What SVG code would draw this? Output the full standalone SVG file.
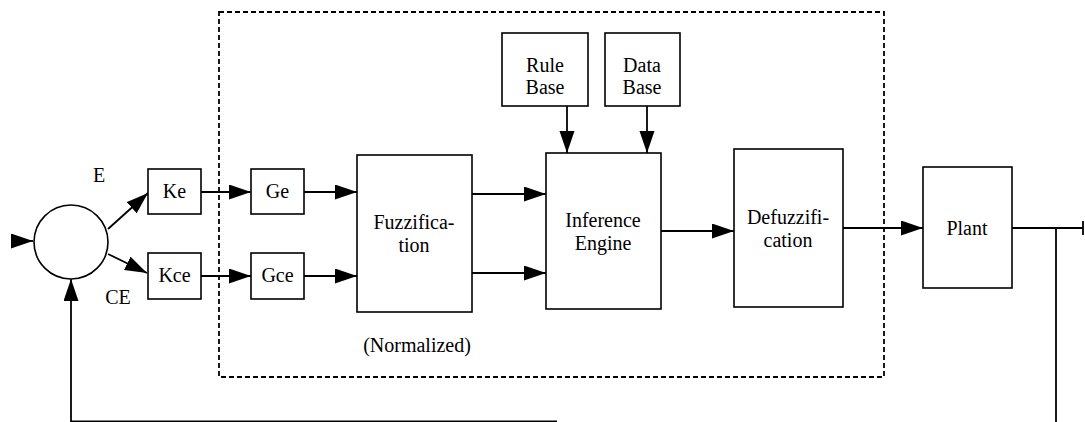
<svg xmlns="http://www.w3.org/2000/svg" width="1085" height="422" viewBox="0 0 1085 422">
  <style>
    .box { fill: #fff; stroke: #000; stroke-width: 1.6; }
    .wire { fill: none; stroke: #000; stroke-width: 1.8; }
    .frame { fill: none; stroke: #000; stroke-width: 1.8; stroke-dasharray: 5 3; }
  </style>
  <defs>
    <marker id="arrow" markerUnits="userSpaceOnUse" markerWidth="23" markerHeight="16" refX="22" refY="7.5" orient="auto">
      <path d="M0,0 L22,7.5 L0,15 Z" fill="#000"/>
    </marker>
  </defs>

  <rect width="1085" height="422" fill="#fff"/>

  <!-- dashed boundary of the fuzzy controller -->
  <rect class="frame" x="219" y="12" width="665" height="365"/>

  <!-- connectors -->
  <g id="connectors">
    <path class="wire" d="M12,241 L33,241" marker-end="url(#arrow)"/>
    <path class="wire" d="M108,229 L148,193" marker-end="url(#arrow)"/>
    <path class="wire" d="M108,254 L147,273" marker-end="url(#arrow)"/>
    <path class="wire" d="M201,192 L251,192" marker-end="url(#arrow)"/>
    <path class="wire" d="M201,276 L251,276" marker-end="url(#arrow)"/>
    <path class="wire" d="M304,192 L357,192" marker-end="url(#arrow)"/>
    <path class="wire" d="M304,276 L357,276" marker-end="url(#arrow)"/>
    <path class="wire" d="M472,194 L546,194" marker-end="url(#arrow)"/>
    <path class="wire" d="M472,273 L546,273" marker-end="url(#arrow)"/>
    <path class="wire" d="M567,106 L567,153" marker-end="url(#arrow)"/>
    <path class="wire" d="M647,106 L647,153" marker-end="url(#arrow)"/>
    <path class="wire" d="M661,231 L734,231" marker-end="url(#arrow)"/>
    <path class="wire" d="M843,228 L923,228" marker-end="url(#arrow)"/>
    <!-- plant output and feedback path -->
    <path class="wire" d="M1012,228 L1083,228"/>
    <path class="wire" d="M1083,221 L1083,235" stroke-width="2.5"/>
    <path class="wire" d="M1056,228 L1056,422"/>
    <path class="wire" d="M71,421.5 L557,421.5" stroke="#666" stroke-width="1.2"/>
    <path class="wire" d="M71,422 L71,279" marker-end="url(#arrow)"/>
  </g>

  <!-- all labels share one serif face -->
  <g font-family="'Liberation Serif', 'Times New Roman', serif" font-size="20" text-anchor="middle" fill="#000">
    <!-- summing junction -->
    <g id="sum">
      <circle cx="71" cy="242" r="37" fill="#fff" stroke="#000" stroke-width="1.6"/>
      <text x="99" y="182">E</text>
      <text x="118" y="304">CE</text>
    </g>

    <g id="ke">
      <rect class="box" x="148" y="169" width="53" height="45"/>
      <text x="174.5" y="198">Ke</text>
    </g>
    <g id="kce">
      <rect class="box" x="148" y="253" width="53" height="46"/>
      <text x="174.5" y="282">Kce</text>
    </g>
    <g id="ge">
      <rect class="box" x="251" y="169" width="53" height="45"/>
      <text x="277.5" y="198">Ge</text>
    </g>
    <g id="gce">
      <rect class="box" x="251" y="253" width="53" height="46"/>
      <text x="277.5" y="282">Gce</text>
    </g>

    <g id="fuzzification">
      <rect class="box" x="357" y="155" width="115" height="157"/>
      <text x="414" y="229">Fuzzifica-</text>
      <text x="414" y="252">tion</text>
      <text x="417" y="352">(Normalized)</text>
    </g>

    <g id="rule-base">
      <rect class="box" x="502" y="33" width="86" height="73"/>
      <text x="545" y="72">Rule</text>
      <text x="545" y="94">Base</text>
    </g>
    <g id="data-base">
      <rect class="box" x="605" y="33" width="75" height="73"/>
      <text x="642" y="72">Data</text>
      <text x="642" y="94">Base</text>
    </g>

    <g id="inference-engine">
      <rect class="box" x="546" y="153" width="115" height="156"/>
      <text x="603" y="227">Inference</text>
      <text x="603" y="250">Engine</text>
    </g>

    <g id="defuzzification">
      <rect class="box" x="734" y="149" width="109" height="158"/>
      <text x="788" y="224">Defuzzifi-</text>
      <text x="788" y="247">cation</text>
    </g>

    <g id="plant">
      <rect class="box" x="923" y="167" width="89" height="121"/>
      <text x="967" y="235">Plant</text>
    </g>
  </g>
</svg>
